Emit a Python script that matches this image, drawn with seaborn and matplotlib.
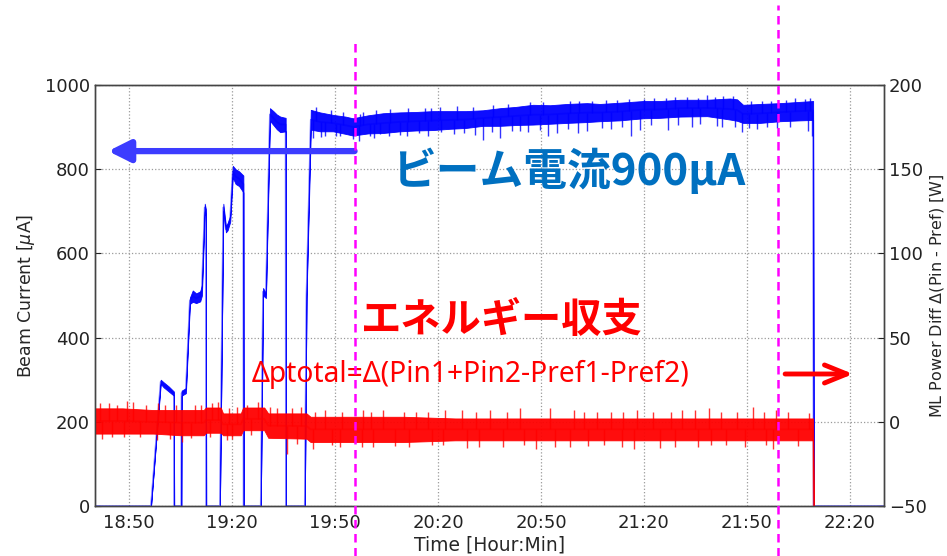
import matplotlib
matplotlib.use("Agg")
import matplotlib.pyplot as plt
import matplotlib.dates as mdates
import matplotlib.transforms as mtransforms
from matplotlib.lines import Line2D
import numpy as np
import pandas as pd
import seaborn as sns

DAY = "2016-02-10"

# Beam current [uA]: time, lower / upper edge of the trace
blue_time = ["18:40:00", "18:56:20", "18:59:10", "19:00:00", "19:01:30", "19:03:00", "19:03:05",
             "19:05:10", "19:05:15", "19:06:30", "19:07:40", "19:08:30", "19:09:30", "19:10:40",
             "19:11:10", "19:12:00", "19:12:20", "19:12:25", "19:16:25", "19:17:25", "19:18:10",
             "19:18:40", "19:19:25", "19:20:10", "19:21:00", "19:22:00", "19:23:15", "19:23:20",
             "19:28:20", "19:29:00", "19:29:50", "19:31:00", "19:32:00", "19:33:00", "19:34:00",
             "19:35:35", "19:35:40", "19:41:10", "19:41:40", "19:42:55", "19:45:35", "19:49:25",
             "19:53:00", "19:55:10", "19:59:35", "20:04:00", "20:08:55", "20:13:35", "20:18:30",
             "20:23:30", "20:28:10", "20:33:05", "20:38:05", "20:42:40", "20:47:40", "20:52:40",
             "20:57:35", "21:03:25", "21:07:10", "21:13:00", "21:19:50", "21:24:40", "21:30:35",
             "21:38:25", "21:45:05", "21:47:10", "21:48:55", "21:53:55", "21:59:40", "22:05:30",
             "22:09:20", "22:09:30", "22:30:00"]
blue_low = [0, 0, 290, 282, 272, 262, 0,
            0, 262, 268, 480, 485, 482, 486,
            500, 700, 690, 0, 0, 700, 650,
            655, 675, 780, 765, 760, 745, 0,
            0, 500, 494, 915, 905, 895, 888,
            890, 0, 0, 495, 894, 890, 890,
            884, 880, 885, 886, 890, 892, 893,
            896, 898, 903, 903, 905, 906, 908,
            910, 912, 914, 916, 921, 922, 925,
            926, 918, 915, 910, 910, 914, 916,
            917, 0, 0]
blue_high = [0, 0, 300, 294, 284, 272, 0,
             0, 274, 280, 495, 512, 505, 510,
             525, 718, 705, 0, 0, 718, 665,
             672, 690, 808, 800, 795, 785, 0,
             0, 518, 505, 945, 938, 930, 925,
             922, 0, 0, 505, 941, 935, 929,
             925, 921, 928, 933, 935, 936, 938,
             938, 938, 940, 945, 948, 953, 952,
             955, 957, 955, 958, 962, 962, 965,
             965, 968, 966, 953, 955, 957, 960,
             962, 0, 0]

# Isolated excursions of the beam current [uA]
blue_spike_time = ["19:43:35", "19:47:10", "19:51:20", "19:55:10", "20:00:10", "20:03:00",
                   "20:08:55", "20:14:30", "20:21:00", "20:27:30", "20:33:05", "20:38:05",
                   "20:44:00", "20:54:40", "21:03:25", "21:10:30", "21:18:55", "21:27:05",
                   "21:34:00", "21:41:20", "21:42:50", "21:50:30", "21:56:00", "22:07:55",
                   "19:46:00", "19:50:10", "19:57:00", "20:01:20", "20:05:40", "20:11:00",
                   "20:17:00", "20:24:40", "20:30:40", "20:35:50", "20:41:30", "20:46:10",
                   "20:49:50", "20:52:00", "20:58:00", "21:00:40", "21:07:40", "21:13:30",
                   "21:16:20", "21:22:10", "21:30:00", "21:36:20", "21:46:30", "21:48:30",
                   "21:53:00", "21:58:40", "22:02:40", "22:09:00",
                   "19:58:00", "20:18:00", "20:46:50", "20:50:35", "21:05:00", "21:20:00",
                   "21:38:25", "21:43:05", "21:57:00", "22:07:00",
                   "19:44:30", "19:48:40", "19:52:10", "19:57:20", "20:01:50", "20:06:00",
                   "20:11:20", "20:16:10", "20:20:40", "20:25:30", "20:30:10", "20:36:00",
                   "20:40:20", "20:58:30", "21:01:00", "21:09:00", "21:12:10", "21:15:40",
                   "21:23:00", "21:26:30", "21:29:00", "21:32:30", "21:35:40", "21:40:50",
                   "21:45:50", "21:51:10", "21:54:20", "22:01:20", "22:04:00", "22:08:30"]
blue_spike_value = [874, 880, 878, 872, 879, 883,
                    882, 886, 888, 885, 870, 874,
                    890, 886, 890, 895, 894, 894,
                    900, 903, 900, 898, 900, 890,
                    876, 880, 868, 874, 878, 880,
                    878, 884, 882, 888, 890, 888,
                    892, 878, 895, 885, 898, 900,
                    880, 905, 906, 908, 900, 888,
                    895, 898, 900, 880,
                    935, 945, 960, 960, 962, 966,
                    977, 975, 963, 967,
                    948, 940, 935, 932, 940, 944,
                    945, 946, 948, 950, 948, 953,
                    956, 963, 962, 964, 965, 966,
                    970, 968, 972, 972, 970, 972,
                    975, 962, 963, 965, 968, 970]

# ML power difference [W]: time, lower / upper edge of the trace
red_time = ["18:40:00", "18:48:00", "18:57:00", "19:05:00", "19:11:40", "19:12:20", "19:16:40",
            "19:17:20", "19:22:30", "19:23:10", "19:29:20", "19:30:30", "19:41:40", "19:42:50",
            "20:10:00", "20:25:00", "21:00:00", "21:40:00", "22:09:20", "22:09:30"]
red_low = [-7, -7, -7, -8, -8, -6.5, -6.5,
           -8, -8, -5, -5, -9.5, -10, -12,
           -12, -11, -11, -11, -11, -50]
red_high = [8, 8, 7, 7, 7, 8.5, 8.5,
            5, 5, 8.5, 8.5, 5, 5, 3,
            3, 2, 2, 2, 2, -50]

# Isolated excursions of the power difference [W]
red_spike_time = ["18:44:00", "18:49:20", "19:00:30", "19:09:10", "19:14:00", "19:24:20",
                  "19:33:00", "19:44:00", "19:58:00", "20:10:00", "20:22:00", "20:35:00",
                  "20:52:40", "21:06:20", "21:14:00", "21:22:40", "21:35:00", "21:47:10",
                  "21:51:50", "22:02:00",
                  "18:41:30", "18:46:30", "18:51:00", "18:55:00", "18:58:30", "19:03:30",
                  "19:11:00", "19:16:00", "19:19:00", "19:21:30", "19:27:30", "19:31:00",
                  "19:37:30", "19:40:00", "19:47:00", "19:52:00", "20:00:30", "20:04:00",
                  "20:13:30", "20:17:00", "20:27:00", "20:31:00", "20:40:00", "20:44:00",
                  "20:59:30", "21:02:30", "21:10:30", "21:18:00", "21:28:00", "21:31:00",
                  "21:39:00", "21:42:30", "21:55:00", "21:58:30", "22:08:00",
                  "18:45:00", "18:53:00", "19:02:00", "19:08:00", "19:20:00", "19:35:50",
                  "19:49:05", "19:57:50", "20:07:30", "20:18:15", "20:28:30", "20:39:00",
                  "20:54:10", "21:03:45", "21:24:45", "21:35:50", "21:44:00", "22:05:00",
                  "18:42:00", "18:48:30", "18:58:00", "19:05:30", "19:13:30", "19:18:30",
                  "19:25:30", "19:39:00", "19:43:30", "19:51:30", "20:01:00", "20:11:30",
                  "20:21:30", "20:32:00", "20:45:00", "20:48:30", "20:58:30", "21:08:30",
                  "21:13:30", "21:17:00", "21:29:00", "21:39:30", "21:49:30", "21:55:30",
                  "21:57:30"]
red_spike_value = [11, 12.3, 10, 10, 11, 10,
                   8, 6, 7, 6, 7, 7,
                   8, 6, 6, 6, 7, 6,
                   9, 6,
                   11, 10, 12, 10, 11, 10,
                   10, 12, 8, 9, 12, 9,
                   8, 9, 7, 6, 6, 7,
                   6, 6, 7, 6, 6, 8,
                   7, 6, 6, 7, 6, 7,
                   8, 6, 6, 7, 5,
                   -9, -9, -10, -9.8, -10, -19,
                   -13.8, -14.8, -14.4, -13.8, -15.8, -15,
                   -14.8, -14.4, -15.5, -15, -14, -14.4,
                   -10, -9, -11, -12, -9, -11,
                   -8, -13, -16, -15, -15, -15,
                   -14, -15, -14, -16, -15, -14,
                   -15, -16, -15, -14, -15, -14,
                   -16]

# Reference markers (time of the two dashed lines)
marker_time = ["19:55:40", "21:59:10"]

x_ticks_minutes = [20, 50]


def stamp(values):
    return pd.to_datetime([f"{DAY} {v}" for v in values])


beam = pd.DataFrame({"time": stamp(blue_time), "low": blue_low, "high": blue_high})
beam["mid"] = (beam["low"] + beam["high"]) / 2
power = pd.DataFrame({"time": stamp(red_time), "low": red_low, "high": red_high})
power["mid"] = (power["low"] + power["high"]) / 2
beam_spikes = pd.DataFrame({"time": stamp(blue_spike_time), "value": blue_spike_value})
power_spikes = pd.DataFrame({"time": stamp(red_spike_time), "value": red_spike_value})


def band_center(df, when):
    return np.interp(mdates.date2num(when), mdates.date2num(df["time"]), df["mid"])


sns.set_style("white")
plt.rcParams["font.family"] = ["DejaVu Sans"]

fig = plt.figure(figsize=(9.47, 5.56), dpi=100)
ax = fig.add_axes([0.1003, 0.0899, 0.8332, 0.7572])

BLUE = "#0000ff"
RED = "#ff0000"

# beam current trace
ax.fill_between(beam["time"], beam["low"], beam["high"], color=BLUE, lw=0.6, alpha=0.95)
sns.lineplot(data=beam, x="time", y="mid", ax=ax, color=BLUE, lw=1.3, alpha=0.5,
             estimator=None, sort=False)
ax.vlines(beam_spikes["time"], band_center(beam, beam_spikes["time"]),
          beam_spikes["value"], color=BLUE, lw=1.0, alpha=0.8)

ax.set_xlim(pd.Timestamp(f"{DAY} 18:40"), pd.Timestamp(f"{DAY} 22:30"))
ax.set_ylim(0, 1000)
ax.set_yticks(range(0, 1001, 200))
ax.xaxis.set_major_locator(mdates.MinuteLocator(byminute=x_ticks_minutes))
ax.xaxis.set_major_formatter(mdates.DateFormatter("%H:%M"))
ax.grid(True, linestyle=":", color="#9a9a9a", lw=0.9)
ax.set_xlabel("Time [Hour:Min]", fontsize=13.5, labelpad=2)
ax.set_ylabel(r"Beam Current [$\mu$A]", fontsize=12.5, labelpad=6)

# power difference trace on the right axis
ax2 = ax.twinx()
ax2.fill_between(power["time"], power["low"], power["high"], color=RED, lw=0.6, alpha=0.95)
sns.lineplot(data=power, x="time", y="mid", ax=ax2, color=RED, lw=1.3, alpha=0.5,
             estimator=None, sort=False)
ax2.vlines(power_spikes["time"], band_center(power, power_spikes["time"]),
           power_spikes["value"], color=RED, lw=1.0, alpha=0.8)
ax2.set_ylim(-50, 200)
ax2.set_yticks(range(-50, 201, 50))
ax2.set_ylabel(r"ML Power Diff $\Delta$(Pin - Pref) [W]", fontsize=11.5, labelpad=1)
ax2.grid(False)

for a in (ax, ax2):
    a.tick_params(direction="in", length=4, labelsize=13, colors="#222222")
    for s in a.spines.values():
        s.set_color("#444444")
        s.set_linewidth(1.0)
ax.tick_params(axis="x", pad=6)

# dashed time markers running through the whole figure
blend = mtransforms.blended_transform_factory(ax.transData, fig.transFigure)
for when, top in zip(stamp(marker_time), (1 - 38 / 556, 1 - 5 / 556)):
    xd = mdates.date2num(when)
    fig.add_artist(Line2D([xd, xd], [0, top], transform=blend, color="#ff00ff",
                          lw=1.8, linestyle=(0, (3.4, 2.2)), clip_on=False, zorder=5))

# arrows pointing to the corresponding axes
ax.annotate("", xy=(pd.Timestamp(f"{DAY} 18:43:50"), 843),
            xytext=(stamp(marker_time)[0], 843),
            arrowprops=dict(arrowstyle="-|>,head_length=13,head_width=6.5", mutation_scale=1,
                            color="#3c3cff", lw=4.5, shrinkA=0, shrinkB=0), zorder=6)
ax2.annotate("", xy=(pd.Timestamp(f"{DAY} 22:21:00"), 28.4),
             xytext=(pd.Timestamp(f"{DAY} 22:01:10"), 28.4),
             arrowprops=dict(arrowstyle="->,head_length=16,head_width=6.5", mutation_scale=1,
                             color=RED, lw=3.5, shrinkA=0, shrinkB=0), annotation_clip=False)

cjk = ["Noto Sans CJK JP", "DejaVu Sans"]
fig.text(569 / 947, 1 - 171 / 556, "ビーム電流900μA", ha="center", va="center",
         fontsize=31.5, fontweight="bold", color="#0070c0", family=cjk)
fig.text(502 / 947, 1 - 321 / 556, "エネルギー収支", ha="center", va="center",
         fontsize=29, fontweight="bold", color=RED, family=cjk)
fig.text(471 / 947, 1 - 374 / 556, "Δptotal=Δ(Pin1+Pin2-Pref1-Pref2)", ha="center",
         va="center", fontsize=20.3, color=RED, family=["Noto Sans", "DejaVu Sans"])

fig.savefig("out.png", dpi=100)
